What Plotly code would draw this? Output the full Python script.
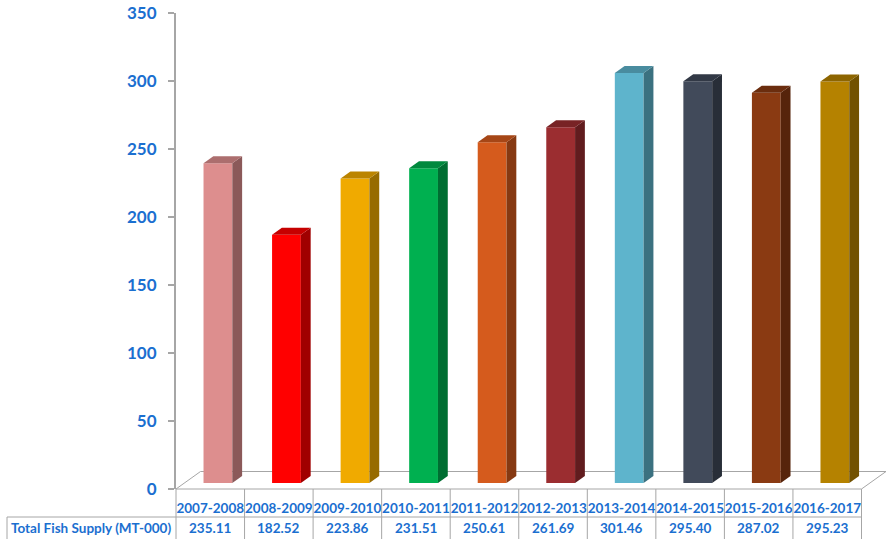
import plotly.graph_objects as go

categories = ["2007-2008", "2008-2009", "2009-2010", "2010-2011", "2011-2012",
              "2012-2013", "2013-2014", "2014-2015", "2015-2016", "2016-2017"]
values = [235.11, 182.52, 223.86, 231.51, 250.61, 261.69, 301.46, 295.40, 287.02, 295.23]
value_labels = ["235.11", "182.52", "223.86", "231.51", "250.61",
                "261.69", "301.46", "295.40", "287.02", "295.23"]
row_label = "Total Fish Supply (MT-000)"
y_ticks = [0, 50, 100, 150, 200, 250, 300, 350]
bar_colors = ["#DD8E8E", "#FF0000", "#F0AA00", "#00B050", "#D55B1D",
              "#9B2D30", "#5EB4CC", "#414A5A", "#8A3A12", "#B58200"]

BLUE = "#1B6FD0"
GRID = "#A6A6A6"
FONT = "Lato"

W, H = 887, 539
ML, MR, MT, MB = 176, 1, 13, 50
PW, PH = W - ML - MR, H - MT - MB
YMAX = 350
n = len(categories)
px_per_cat = 68.55
dX = 24.5 / px_per_cat          # floor depth in category units
dY = 17.5 * YMAX / PH           # floor depth in value units
f1, f2 = 0.34, 0.74             # bar front/back depth fractions
bw = 0.42                       # bar width


def shade(hexc, k):
    r, g, b = int(hexc[1:3], 16), int(hexc[3:5], 16), int(hexc[5:7], 16)
    return "#%02X%02X%02X" % (int(r * k), int(g * k), int(b * k))


fig = go.Figure()

xs = list(range(n))
fig.add_trace(go.Bar(
    x=[i + f1 * dX - 0.01 for i in xs], y=values, base=[f1 * dY] * n, width=bw,
    marker=dict(color=bar_colors, line=dict(width=0)), hoverinfo="skip",
    showlegend=False))

for i, v in enumerate(values):
    xf = i + f1 * dX - 0.01
    xb = xf + (f2 - f1) * dX
    # side face
    fig.add_trace(go.Scatter(
        x=[xf + bw / 2, xf + bw / 2, xb + bw / 2, xb + bw / 2, xf + bw / 2],
        y=[f1 * dY, v + f1 * dY, v + f2 * dY, f2 * dY, f1 * dY],
        fill="toself", mode="lines", line=dict(width=0),
        fillcolor=shade(bar_colors[i], 0.63), hoverinfo="skip", showlegend=False))
    # top face
    fig.add_trace(go.Scatter(
        x=[xf - bw / 2, xf + bw / 2, xb + bw / 2, xb - bw / 2, xf - bw / 2],
        y=[v + f1 * dY, v + f1 * dY, v + f2 * dY, v + f2 * dY, v + f1 * dY],
        fill="toself", mode="lines", line=dict(width=0),
        fillcolor=shade(bar_colors[i], 0.78), hoverinfo="skip", showlegend=False))

shapes = []
# floor
for (x0, y0, x1, y1) in [(-0.5 + dX, dY, n - 0.5 + dX, dY),
                         (-0.5, 0, -0.5 + dX, dY),
                         (n - 0.5, 0, n - 0.5 + dX, dY)]:
    shapes.append(dict(type="line", xref="x", yref="y", x0=x0, y0=y0, x1=x1, y1=y1,
                       line=dict(color=GRID, width=1), layer="below"))


def pxx(p):
    return (p - ML) / PW


def pxy(p):
    return (H - MB - p) / PH


x_right = ML + n * px_per_cat
# table horizontal lines
shapes.append(dict(type="line", xref="paper", yref="paper", x0=0, x1=pxx(x_right),
                   y0=0, y1=0, line=dict(color=GRID, width=1)))
shapes.append(dict(type="line", xref="paper", yref="paper", x0=pxx(7), x1=pxx(x_right),
                   y0=pxy(517), y1=pxy(517), line=dict(color=GRID, width=1)))
# table vertical lines
for k in range(n + 1):
    xp = pxx(ML + k * px_per_cat)
    shapes.append(dict(type="line", xref="paper", yref="paper", x0=xp, x1=xp,
                       y0=0, y1=pxy(H + 2), line=dict(color=GRID, width=1)))
shapes.append(dict(type="line", xref="paper", yref="paper", x0=pxx(7), x1=pxx(7),
                   y0=pxy(517), y1=pxy(H + 2), line=dict(color=GRID, width=1)))

annotations = []
for i, t in enumerate(value_labels):
    annotations.append(dict(x=i, xref="x", y=pxy(528), yref="paper", text=t,
                            showarrow=False, xanchor="center", yanchor="middle",
                            font=dict(family=FONT, size=13.5, color=BLUE, weight="bold")))
annotations.append(dict(x=pxx(9), xref="paper", y=pxy(528), yref="paper", text=row_label,
                        showarrow=False, xanchor="left", yanchor="middle",
                        font=dict(family=FONT, size=13.5, color=BLUE, weight="bold")))

fig.update_layout(
    width=W, height=H,
    margin=dict(l=ML, r=MR, t=MT, b=MB, pad=0, autoexpand=False),
    paper_bgcolor="white", plot_bgcolor="white",
    shapes=shapes, annotations=annotations,
    xaxis=dict(range=[-0.5, n - 0.5 + dX], tickvals=xs, ticktext=categories,
               showgrid=False, zeroline=False, showline=False, ticks="",
               tickangle=0, automargin=False,
               tickfont=dict(family=FONT, size=13.5, color=BLUE, weight="bold"),
               ticklabelstandoff=9, fixedrange=True),
    yaxis=dict(range=[0, YMAX], tickvals=y_ticks, showgrid=False, zeroline=False,
               showline=True, linecolor=GRID, linewidth=2, automargin=False,
               ticks="outside", ticklen=6, tickcolor=GRID, tickwidth=2,
               tickfont=dict(family=FONT, size=17, color=BLUE, weight="bold"),
               ticklabelstandoff=8, fixedrange=True),
    showlegend=False,
)

fig.write_html("out.html")
